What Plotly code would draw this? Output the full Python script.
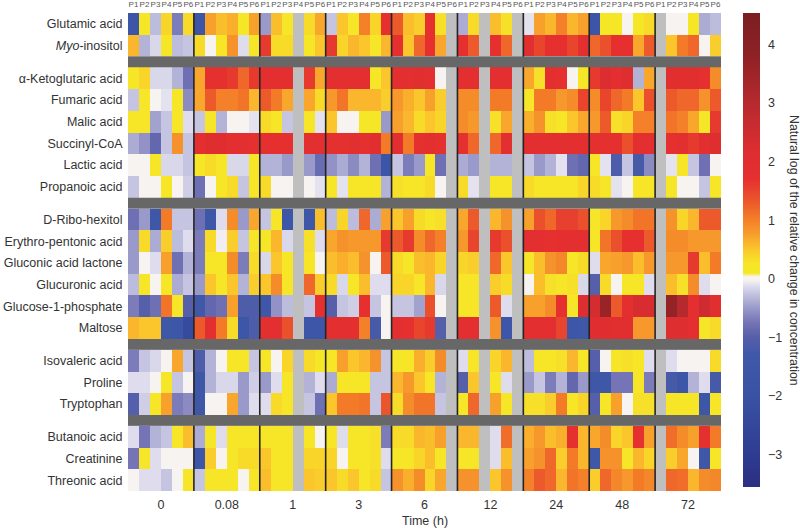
import plotly.graph_objects as go

_ = None
patients = ["P1", "P2", "P3", "P4", "P5", "P6"]
times = ["0", "0.08", "1", "3", "6", "12", "24", "48", "72"]

glutamic = [-1.6,.15,-.3,.4,-.7,.35, -1.6,.75,.55,.65,.15,.75, -.5,.55,.2,_,.35,.7, -.25,.5,.2,1.0,.4,1.7, 1.3,.55,.45,1.7,.3,_, -.4,.35,_,.55,.3,_, -.1,.75,.6,1.0,.6,.75, -1.6,.15,.15,0,.15,.35, _,0,0,.15,-.4,-.3]
myo = [.6,-.35,-.15,.2,-.3,-.25, .35,0,.2,.85,-.12,.2, 1.6,.35,.35,_,.2,.5, 1.6,.4,.6,.5,.2,.6, 1.7,.5,1.2,1.7,.7,_, 1.7,1.3,_,1.7,1.2,_, 1.9,1.5,1.7,1.7,1.5,1.8, 1.2,1.4,1.7,1.7,.7,1.3, _,.5,1.05,1.2,0,.45]
ketoglutaric = [.2,.4,-.15,-.15,-.35,-.8, .7,1.75,1.75,1.6,1.2,1.6, 1.8,1.8,1.8,_,1.6,.7, 1.8,1.8,1.8,1.8,.2,.5, 1.8,1.8,1.9,1.8,0,_, 1.8,1.8,_,1.8,1.8,_, .7,.3,1.8,1.7,0,.2, 1.6,2.2,1.8,2.1,-.35,.7, _,1.95,1.95,1.95,1.7,.9]
fumaric = [-.25,.2,0,-.1,.2,-.6, .7,1.3,1.0,1.0,1.1,.6, 1.3,1.05,.7,_,.7,.35, .8,1.1,.6,.6,.6,.45, .8,.65,.5,.75,.45,_, .9,.9,_,1.05,1.05,_, .25,1.05,1.05,.8,.9,1.5, .9,1.5,1.2,1.05,.5,1.4, _,1.3,1.2,1.2,.85,1.3]
malic = [.2,.2,-.45,-.25,.2,-.12, -.25,.2,-.35,0,0,-.1, .35,.2,-.25,_,.2,-.1, .5,0,0,.15,.15,-.5, .75,.6,.35,.5,.4,_, .9,.8,_,.3,.7,_, .65,.85,.3,.2,.5,.7, .8,1.3,.3,.4,1.0,1.0, _,1.1,1.0,.7,.25,1.6]
succinyl = [-.4,-.55,-.9,-.25,.85,-.25, 1.8,2.1,2.0,1.8,1.8,1.7, 1.7,1.7,1.7,_,1.8,1.8, 1.75,1.75,1.85,1.75,1.9,1.05, 1.9,1.05,1.75,1.8,1.75,_, 1.75,1.2,_,1.2,1.85,_, 1.8,1.8,1.8,1.8,1.8,1.8, 1.75,1.75,1.75,1.4,1.8,1.8, _,1.7,1.85,1.6,1.85,2.1]
lactic = [0,0,.2,-.15,-.15,-.25, .2,.35,.2,-.15,-.15,.2, -.35,-.35,-.5,_,-.5,-.85, -.55,-.4,-.6,-.35,-.8,-1.6, -.25,-.7,-.5,.2,-.8,_, -.4,-.5,_,-.35,-.35,_, -.25,-.5,-.35,-.1,-.8,-.9, .2,-.1,-1.1,-.25,-1.2,-.6, _,-.1,.2,-.25,-.8,0]
propanoic = [-.25,0,0,.2,0,-.2, -.8,0,.2,.35,-.25,.2, .35,0,0,_,0,-.1, .2,-.1,.2,.2,.2,-.35, .3,.2,.2,.35,0,_, .35,-.1,_,.2,.2,_, .35,.2,.2,.2,.2,.4, .35,.2,-.1,0,.2,.2, _,.2,0,0,-.25,.2]
ribo = [-.8,-.5,-1.4,1.05,-.25,-.25, -.8,-1.4,-.12,.9,-.5,.7, -.25,.2,-1.5,_,-1.4,.55, -.3,.4,-.3,1.2,-.4,.75, .5,.75,.35,.2,.3,_, .7,1.3,_,.6,.85,_, .75,1.4,1.2,1.55,1.55,1.4, .2,.4,.8,.9,1.1,1.1, _,.85,.4,.6,1.3,1.3]
erythro = [-.5,.35,-.4,.45,-.3,-.12, -.7,.35,-.05,.45,-.25,.2, .25,.6,-.15,_,.3,-.12, .7,.85,.8,.8,.8,1.6, 1.3,1.6,.9,1.2,1.0,_, .8,1.5,_,1.6,1.4,_, 1.8,1.8,1.7,1.8,1.8,1.8, .2,1.1,1.4,1.7,1.7,1.3, _,.9,.9,.8,.8,.8]
gluconic = [-.5,0,-.12,.75,-.8,-.35, -.7,.2,.2,.9,-.7,.35, -.15,.5,.2,_,.2,0, .55,.65,.55,.85,0,1.3, .35,.2,.55,.6,.4,_, .4,.45,_,1.2,.5,_, .2,.55,.85,.95,.2,.35, -.12,.7,.75,.8,.55,.8, _,.8,.8,1.6,.55,1.05]
glucuronic = [-.3,.2,0,.2,-.4,-.25, -.5,.5,.2,.5,-.35,.45, .5,.9,.2,_,1.2,.45, .35,-.15,.2,.55,-.12,-.12, .4,.4,.2,.6,-.15,_, .2,.2,_,.45,.35,_, 0,.55,.3,.2,.3,-.15, -1.0,.35,0,.2,.2,-.12, _,.55,.3,.9,-.12,0]
g1p = [-.7,-1.0,-.8,1.1,.2,-1.0, -1.3,-.9,-.8,.75,-1.1,-1.1, -1.4,-.55,-.3,_,-.25,1.7, -1.0,-.25,-.2,1.7,-.25,0, -.25,-.25,-.45,1.4,0,_, .2,.2,_,1.3,-.12,_, .75,.75,.9,1.7,.2,2.1, 2.4,3.6,1.3,1.8,2.3,2.3, _,3.7,3.0,1.8,2.5,1.9]
maltose = [.6,.5,.5,-1.4,-1.5,-2.3, 1.3,1.8,1.05,.35,-1.5,-1.1, 1.8,1.8,1.4,_,-1.5,-1.5, 1.8,1.8,1.8,1.0,-1.2,0, 1.8,1.7,1.5,1.6,-1.0,_, 1.8,1.8,_,.85,-1.5,_, 1.8,1.8,1.8,1.5,-1.5,-1.4, 2.0,2.0,1.9,1.9,.8,.8, _,2.1,2.1,1.8,.2,.35]
isovaleric = [-.7,-.25,-.15,0,.7,-.25, -1.1,-.35,0,.2,.2,-.25, .2,0,.4,_,.35,.25, .2,.75,.5,.6,.85,-.25, .2,.2,.65,.45,.9,_, -.12,.2,_,.4,.6,_, -.3,.2,.2,.3,.6,.2, -1.0,0,.2,.3,.2,-.12, _,-.12,0,0,0,.35]
proline = [-.12,-.12,0,.2,-.25,0, -1.4,-.35,-.15,-.15,-.5,-.2, -.5,-.12,.2,_,-.35,-.12, -.4,.2,.2,.2,-.25,-.25, .6,.8,.5,.2,-.35,_, -1.0,.5,_,.2,-.12,_, -.5,-.25,-.7,-.35,-.9,-.5, -1.4,-1.4,-.75,-.75,.2,-.7, _,-1.2,-1.5,-.35,-.12,-1.2]
tryptophan = [-1.0,-.2,.2,.75,-.7,-.6, -1.4,0,0,.7,-.5,-.12, -.12,.35,.2,_,-.25,-.8, .5,1.05,1.05,1.1,-.25,1.35, .35,.9,1.1,1.1,-.25,_, .2,1.2,_,.75,.2,_, .3,.3,.45,1.05,.2,.4, -1.0,.2,.75,0,.3,.3, _,.2,.2,.2,-1.5,.2]
butanoic = [-.12,-.75,-.35,-.25,.2,.55, -.4,.25,-.12,.2,.2,.2, .2,.2,.2,_,.2,0, .2,-.12,.2,.2,.3,-.7, .35,.35,.6,.55,.75,_, .6,.6,_,-.12,1.15,_, .65,.8,.55,.65,1.7,.6, .7,.9,.4,.5,1.7,.75, _,1.15,.9,.75,1.75,1.05]
creatinine = [-.75,.2,-.12,0,0,0, -1.5,.45,0,.2,.35,.35, .5,.2,.2,_,.4,.4, .4,0,.2,.2,.3,-.12, .2,.2,.4,.55,.2,_, .2,.2,_,-.12,.55,_, .75,.85,1.2,.45,1.05,.6, -1.4,.85,.85,.2,.6,.4, _,.45,.7,0,-1.4,.2]
threonic = [0,-.12,-.12,-.25,0,.2, -.25,.2,.2,.2,0,.2, .55,.2,.2,_,.5,.45, .5,.35,.5,.2,.35,-.25, .85,.65,.9,.4,.7,_, .85,.85,_,.5,.85,_, 1.0,1.3,1.2,.6,1.1,1.0, .45,1.2,.95,.8,1.05,.95, _,1.2,1.15,.6,.9,.95]

groups = [
    [("Glutamic acid", glutamic), ("<i>Myo</i>-inositol", myo)],
    [("α-Ketoglutaric acid", ketoglutaric), ("Fumaric acid", fumaric), ("Malic acid", malic),
     ("Succinyl-CoA", succinyl), ("Lactic acid", lactic), ("Propanoic acid", propanoic)],
    [("D-Ribo-hexitol", ribo), ("Erythro-pentonic acid", erythro), ("Gluconic acid lactone", gluconic),
     ("Glucuronic acid", glucuronic), ("Glucose-1-phosphate", g1p), ("Maltose", maltose)],
    [("Isovaleric acid", isovaleric), ("Proline", proline), ("Tryptophan", tryptophan)],
    [("Butanoic acid", butanoic), ("Creatinine", creatinine), ("Threonic acid", threonic)],
]

ZMIN, ZMAX = -3.56, 4.54
stops = [(-3.56, "#2b2f80"), (-3, "#2f3c92"), (-2, "#3a52a3"), (-1.3, "#3f58a8"), (-1, "#565fa9"),
         (-0.75, "#7474b6"), (-0.5, "#9a9aca"), (-0.3, "#bcbcdc"), (-0.12, "#dfdded"), (-0.03, "#f6f2f2"),
         (0.03, "#f8f4ee"), (0.1, "#f5e724"), (0.25, "#f6e628"), (0.4, "#f9d52a"), (0.6, "#fab62c"),
         (0.8, "#f6982c"), (1.05, "#f37b28"), (1.3, "#ec5a2b"), (1.7, "#e5302f"), (2.2, "#dc2d30"),
         (2.6, "#c92c30"), (3.2, "#ac282c"), (3.8, "#8f2226"), (4.54, "#7a1e22")]
colorscale = [[(v - ZMIN) / (ZMAX - ZMIN), c] for v, c in stops]

GAP = 0.5
z, labels, label_y, edges, gap_bands = [], [], [], [0.0], []
pos = 0.0
for gi, g in enumerate(groups):
    for name, vals in g:
        z.append(vals)
        labels.append(name)
        label_y.append(pos + 0.5)
        pos += 1
        edges.append(pos)
    if gi < len(groups) - 1:
        z.append([None] * 54)
        gap_bands.append((pos, pos + GAP))
        pos += GAP
        edges.append(pos)

fig = go.Figure()
fig.add_trace(go.Heatmap(
    z=z, x=list(range(55)), y=edges, zmin=ZMIN, zmax=ZMAX, colorscale=colorscale,
    hoverongaps=False, xgap=0, ygap=0,
    colorbar=dict(
        x=(743 - 128) / 593, xanchor="left", y=1.0, yanchor="top", thickness=17,
        lenmode="pixels", len=474, outlinewidth=0, borderwidth=0, xpad=0, ypad=0,
        tickvals=[-3, -2, -1, 0, 1, 2, 3, 4], ticks="outside", ticklen=6,
        tickcolor="rgba(0,0,0,0)", tickfont=dict(size=12.5, color="#333"),
    ),
))
top_x = [i + 0.5 for i in range(54)]
fig.add_trace(go.Scatter(x=top_x, y=[0] * 54, xaxis="x2", mode="markers",
                         marker=dict(opacity=0), hoverinfo="skip", showlegend=False))

shapes = []
for b in range(6, 54, 6):
    shapes.append(dict(type="line", xref="x", yref="y", x0=b, x1=b, y0=0, y1=pos,
                       line=dict(color="#252525", width=1.6)))
for a, c in gap_bands:
    shapes.append(dict(type="rect", xref="paper", yref="y", x0=0, x1=1, y0=a, y1=c,
                       fillcolor="#676767", line=dict(width=0)))

clear = "rgba(0,0,0,0)"
fig.update_layout(
    width=800, height=528, autosize=False,
    margin=dict(l=128, r=79, t=13, b=37, autoexpand=False),
    paper_bgcolor="white", plot_bgcolor="#bfbfbf",
    font=dict(family="Liberation Sans, Arial, sans-serif", size=12, color="#333"),
    showlegend=False, shapes=shapes,
    xaxis=dict(range=[0, 54], tickvals=[3 + 6 * i for i in range(9)], ticktext=times,
               ticks="outside", ticklen=2, tickcolor=clear, showgrid=False, zeroline=False,
               showline=False, automargin=False, tickfont=dict(size=12.5)),
    xaxis2=dict(range=[0, 54], overlaying="x", side="top", tickvals=top_x, automargin=False,
                ticktext=patients * 9, ticks="outside", ticklen=2, tickcolor=clear,
                showgrid=False, zeroline=False, showline=False, tickangle=0,
                tickfont=dict(size=8, color="#555")),
    yaxis=dict(range=[pos, 0], tickvals=label_y, ticktext=labels, ticks="outside", ticklen=2,
               tickcolor=clear, showgrid=False, zeroline=False, showline=False, automargin=False,
               tickfont=dict(size=12.5)),
    annotations=[
        dict(text="Natural log of the relative change in concentration",
             xref="paper", yref="paper", x=(794 - 128) / 593, y=(491 - 250) / 478,
             xanchor="center", yanchor="middle", textangle=90, showarrow=False,
             font=dict(size=12.3, color="#333")),
        dict(text="Time (h)", xref="paper", yref="paper", x=0.5, y=(491 - 520.5) / 478,
             xanchor="center", yanchor="middle", showarrow=False,
             font=dict(size=12.5, color="#333")),
    ],
)
fig.write_html("out.html", post_script="document.body.style.margin='0';",
               config=dict(displayModeBar=False))
